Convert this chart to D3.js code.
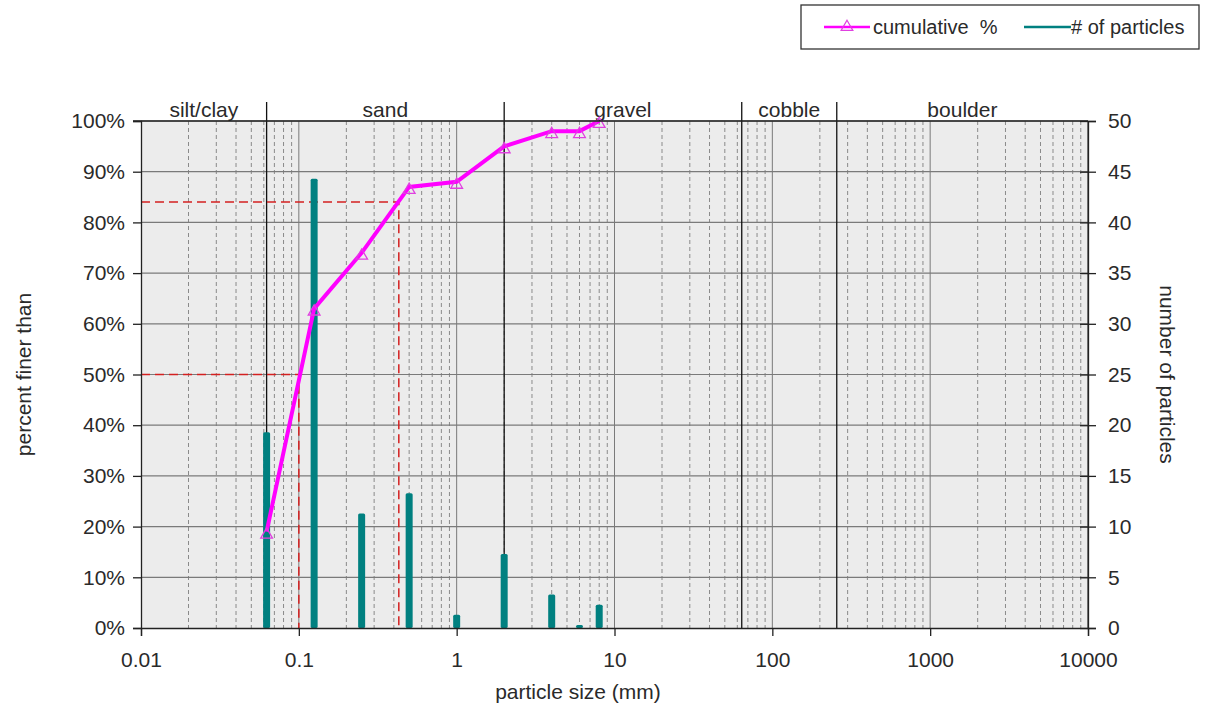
<!DOCTYPE html>
<html>
<head>
<meta charset="utf-8">
<script src="https://cdn.jsdelivr.net/npm/d3@7"></script>
<style>
  body { margin: 0; background: #fff; }
  text { font-family: "Liberation Sans", Arial, sans-serif; fill: #2a2a2a; }
</style>
</head>
<body>
<svg id="chart"></svg>
<script>
// sieve sizes (mm) and counts
const sizes = [0.0625, 0.125, 0.25, 0.5, 1, 2, 4, 6, 8];
const counts = [19, 44, 11, 13, 1, 7, 3, 0, 2];
const cumulative = [19, 63, 74, 87, 88, 95, 98, 98, 100];

// size class boundaries and labels
const boundaries = [0.0625, 2, 64, 256];
const classNames = ["silt/clay", "sand", "gravel", "cobble", "boulder"];
const classEdges = [0.01, 0.0625, 2, 64, 256, 10000];

// D50 and D84 marker lines
const dLines = [{pct: 50, size: 0.1}, {pct: 84, size: 0.43}];

const xTicks = [0.01, 0.1, 1, 10, 100, 1000, 10000];
const pctTicks = [0, 10, 20, 30, 40, 50, 60, 70, 80, 90, 100];
const countTicks = [0, 5, 10, 15, 20, 25, 30, 35, 40, 45, 50];

const width = 1215, height = 712;
const margin = { top: 121, left: 141, bottom: 84, right: 127 };
const iwidth = width - margin.left - margin.right;
const iheight = height - margin.top - margin.bottom;
const fs = "21px";

const svg = d3.select("#chart").attr("width", width).attr("height", height);
const g = svg.append("g").attr("transform", `translate(${margin.left},${margin.top})`);

const x = d3.scaleLog().domain([0.01, 10000]).range([0, iwidth]);
const y = d3.scaleLinear().domain([0, 100]).range([iheight, 0]);
const y2 = d3.scaleLinear().domain([0, 50]).range([iheight, 0]);

// plot background
g.append("rect").attr("width", iwidth).attr("height", iheight).attr("fill", "#ececec");

// minor vertical grid (dashed)
const minor = [];
for (let e = -2; e < 4; e++) for (let m = 2; m <= 9; m++) minor.push(m * Math.pow(10, e));
g.selectAll(".minor").data(minor).enter().append("line")
  .attr("x1", d => x(d)).attr("x2", d => x(d))
  .attr("y1", 0).attr("y2", iheight)
  .attr("stroke", "#8a8a8a").attr("stroke-width", 1).attr("stroke-dasharray", "4,3");

// major vertical grid
g.selectAll(".major").data(xTicks.slice(1, -1)).enter().append("line")
  .attr("x1", d => x(d)).attr("x2", d => x(d))
  .attr("y1", 0).attr("y2", iheight)
  .attr("stroke", "#7a7a7a").attr("stroke-width", 1);

// horizontal grid
g.selectAll(".hgrid").data(pctTicks.slice(1)).enter().append("line")
  .attr("x1", 0).attr("x2", iwidth)
  .attr("y1", d => y(d)).attr("y2", d => y(d))
  .attr("stroke", "#7a7a7a").attr("stroke-width", 1.2);

// class boundaries
g.selectAll(".bound").data(boundaries).enter().append("line")
  .attr("x1", d => x(d)).attr("x2", d => x(d))
  .attr("y1", -19).attr("y2", iheight)
  .attr("stroke", "#111").attr("stroke-width", 1.3);

g.selectAll(".cls").data(classNames).enter().append("text")
  .attr("x", (d, i) => (x(classEdges[i]) + x(classEdges[i + 1])) / 2)
  .attr("y", -4)
  .attr("text-anchor", "middle")
  .style("font-size", fs)
  .text(d => d);

// D50 / D84 lines
dLines.forEach(d => {
  g.append("path")
    .attr("d", `M0,${y(d.pct)}H${x(d.size)}V${iheight}`)
    .attr("fill", "none").attr("stroke", "#d42020")
    .attr("stroke-width", 1.5).attr("stroke-dasharray", "9,5");
});

// particle count bars (small cap so an empty class still shows)
g.selectAll(".bar").data(sizes).enter().append("rect")
  .attr("x", d => x(d) - 3.5)
  .attr("y", (d, i) => y2(counts[i]) - 3)
  .attr("width", 7)
  .attr("height", (d, i) => iheight - y2(counts[i]) + 3)
  .attr("rx", 1.5)
  .attr("fill", "#008080");

// cumulative line
const line = d3.line().x(d => x(d[0])).y(d => y(d[1]));
g.append("path")
  .datum(sizes.map((s, i) => [s, cumulative[i]]))
  .attr("d", line)
  .attr("fill", "none").attr("stroke", "#ff00ff").attr("stroke-width", 4);

const tri = d3.symbol().type(d3.symbolTriangle).size(60);
g.selectAll(".mk").data(sizes).enter().append("path")
  .attr("d", tri)
  .attr("transform", (d, i) => `translate(${x(d)},${y(cumulative[i]) + 3})`)
  .attr("fill", "none").attr("stroke", "#e040e0").attr("stroke-width", 1.3);

// plot frame
g.append("line").attr("x1", -8).attr("x2", iwidth).attr("y1", 0).attr("y2", 0).attr("stroke", "#222").attr("stroke-width", 1.3);
g.append("line").attr("x1", iwidth).attr("x2", iwidth).attr("y1", 0).attr("y2", iheight).attr("stroke", "#444").attr("stroke-width", 1.3);

// axes
const xAxis = g.append("g").attr("transform", `translate(0,${iheight})`)
  .call(d3.axisBottom(x).tickValues(xTicks).tickFormat(d3.format("~g")).tickSize(8).tickPadding(16));
const yAxis = g.append("g")
  .call(d3.axisLeft(y).tickValues(pctTicks).tickFormat(d => d + "%").tickSize(8).tickPadding(8));
const yAxis2 = g.append("g").attr("transform", `translate(${iwidth},0)`)
  .call(d3.axisRight(y2).tickValues(countTicks).tickSize(8).tickPadding(12));

[xAxis, yAxis, yAxis2].forEach(a => {
  a.select(".domain").attr("stroke", "#222").attr("stroke-width", 1.3);
  a.selectAll(".tick line").attr("stroke", "#222").attr("stroke-width", 1.3);
  a.selectAll("text").style("font-size", fs).attr("fill", "#2a2a2a")
    .style("font-family", "'Liberation Sans', Arial, sans-serif");
});
yAxis2.selectAll(".tick line").attr("x1", -8);

// axis titles
svg.append("text")
  .attr("text-anchor", "middle")
  .attr("transform", `translate(31,${margin.top + iheight / 2})rotate(-90)`)
  .style("font-size", fs)
  .text("percent finer than");

svg.append("text")
  .attr("text-anchor", "middle")
  .attr("transform", `translate(1160,${margin.top + iheight / 2})rotate(90)`)
  .style("font-size", fs)
  .text("number of particles");

svg.append("text")
  .attr("text-anchor", "middle")
  .attr("x", 578).attr("y", 699)
  .style("font-size", fs)
  .text("particle size (mm)");

// legend
const lg = svg.append("g").attr("transform", "translate(801,5)");
lg.append("rect").attr("width", 398).attr("height", 44)
  .attr("fill", "#fff").attr("stroke", "#333").attr("stroke-width", 1.3);
lg.append("line").attr("x1", 23).attr("x2", 69).attr("y1", 22).attr("y2", 22)
  .attr("stroke", "#ff00ff").attr("stroke-width", 2.5);
lg.append("path").attr("d", tri).attr("transform", "translate(46,22)")
  .attr("fill", "none").attr("stroke", "#e040e0").attr("stroke-width", 1.2);
lg.append("text").attr("x", 72).attr("y", 29).style("font-size", "20px").text("cumulative  %")
  .attr("xml:space", "preserve").style("white-space", "pre");
lg.append("line").attr("x1", 223).attr("x2", 270).attr("y1", 22).attr("y2", 22)
  .attr("stroke", "#008080").attr("stroke-width", 2.5);
lg.append("text").attr("x", 270).attr("y", 29).style("font-size", "20px").text("# of particles");
</script>
</body>
</html>
